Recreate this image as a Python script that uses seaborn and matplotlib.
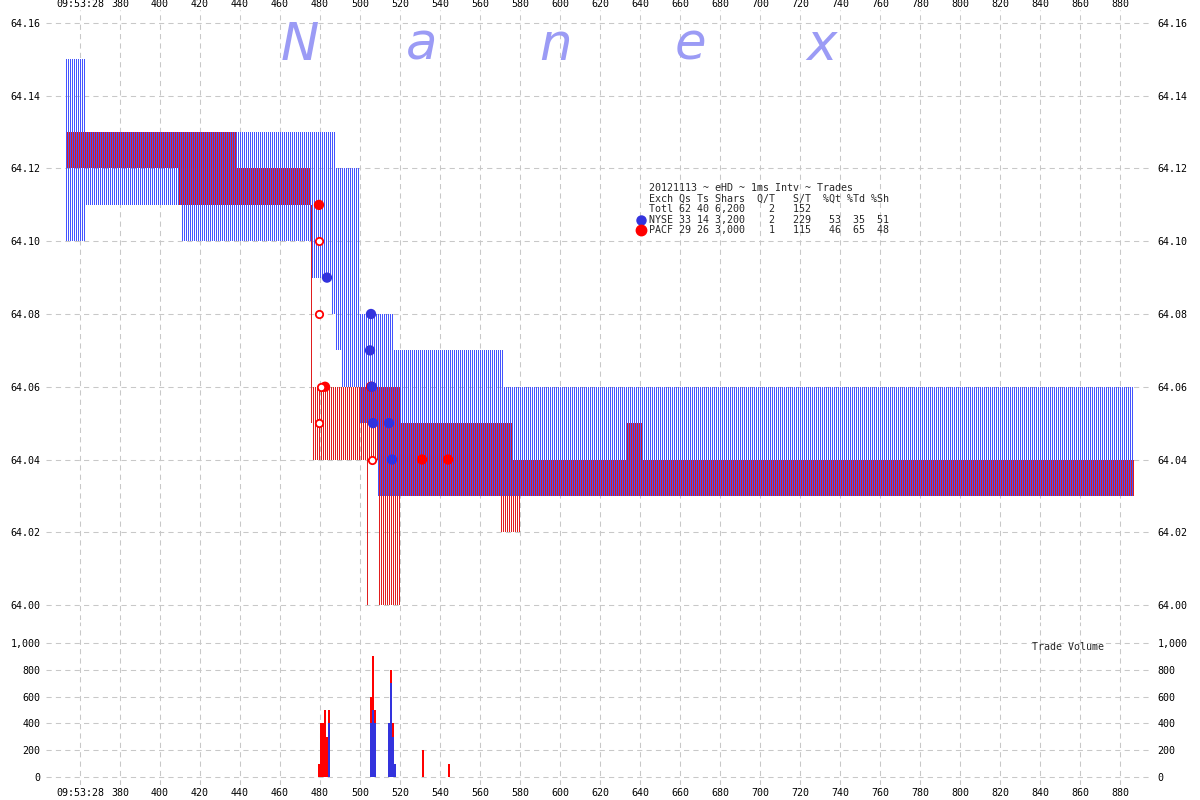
import numpy as np
import pandas as pd
import matplotlib
matplotlib.use("Agg")
import matplotlib.pyplot as plt
import seaborn as sns

# quote bands per exchange, ms [start, end) with bid / ask
nyse_start = [353, 363, 411, 476, 486, 488, 491, 500, 509, 517, 572]
nyse_end = [363, 411, 476, 486, 488, 491, 500, 509, 517, 572, 887]
nyse_bid = [64.10, 64.11, 64.10, 64.09, 64.08, 64.07, 64.06, 64.05, 64.03, 64.03, 64.03]
nyse_ask = [64.15, 64.13, 64.13, 64.13, 64.13, 64.12, 64.12, 64.08, 64.08, 64.07, 64.06]

pacf_start = [353, 409, 438, 475, 476, 503, 504, 509, 520, 570, 576, 580, 633, 641]
pacf_end = [409, 438, 475, 476, 503, 504, 509, 520, 570, 576, 580, 633, 641, 887]
pacf_bid = [64.12, 64.11, 64.11, 64.05, 64.04, 64.00, 64.04, 64.00, 64.03, 64.02, 64.02, 64.03, 64.03, 64.03]
pacf_ask = [64.13, 64.13, 64.12, 64.11, 64.06, 64.06, 64.06, 64.06, 64.05, 64.05, 64.04, 64.04, 64.05, 64.04]

# trades
trade_ms = [479.5, 479.5, 483.5, 479.5, 480.5, 482.5, 479.5, 505.5, 505, 505.5, 506,
            506.5, 506, 514.5, 516, 531, 544]
trade_px = [64.11, 64.10, 64.09, 64.08, 64.06, 64.06, 64.05, 64.08, 64.07, 64.06, 64.06,
            64.05, 64.04, 64.05, 64.04, 64.04, 64.04]
trade_exch = ["PACF", "PACF", "NYSE", "PACF", "PACF", "PACF", "PACF", "NYSE", "NYSE", "PACF", "NYSE",
              "NYSE", "PACF", "NYSE", "NYSE", "PACF", "PACF"]
trade_open = [False, True, False, True, True, False, True, False, False, False, False,
              False, True, False, False, False, False]

# trade volume per ms
vol_ms = [484, 505, 506, 507, 514, 515, 516, 517,
          479, 480, 481, 482, 483, 484, 505, 506, 507, 515, 516, 531, 544]
vol_exch = ["NYSE"] * 8 + ["PACF"] * 13
vol_shares = [400, 400, 500, 400, 400, 700, 300, 100,
              100, 400, 400, 500, 300, 100, 200, 400, 100, 100, 100, 200, 100]

price_ticks = [64.00, 64.02, 64.04, 64.06, 64.08, 64.10, 64.12, 64.14, 64.16]
vol_ticks = [0, 200, 400, 600, 800, 1000]
time_ticks = list(range(360, 881, 20))
time_labels = ["09:53:28"] + [str(t) for t in time_ticks[1:]]

legend_lines = [
    "20121113 ~ eHD ~ 1ms Intv ~ Trades",
    "Exch Qs Ts Shars  Q/T   S/T  %Qt %Td %Sh",
    "Totl 62 40 6,200    2   152",
    "NYSE 33 14 3,200    2   229   53  35  51",
    "PACF 29 26 3,000    1   115   46  65  48",
]

BLUE = "#4455ff"
RED = "#e01e1e"
DOT_BLUE = "#3333dd"
DOT_RED = "#ff0000"

sns.set_style("white")
plt.rcParams["font.family"] = ["DejaVu Sans Mono"]

fig = plt.figure(figsize=(12, 8), dpi=100)
ax = fig.add_axes([46 / 1200, 1 - 620 / 800, 1106 / 1200, 610 / 800])
axv = fig.add_axes([46 / 1200, 1 - 785 / 800, 1106 / 1200, 163 / 800])

# quote stripes: half a ms wide per exchange, NYSE left half, PACF right half
def stripes(starts, ends, bids, asks, offset, color):
    xs, lo, hi = [], [], []
    for s, e, b, a in zip(starts, ends, bids, asks):
        for t in range(s, e):
            xs.append(t + offset)
            lo.append(b)
            hi.append(a - b)
    ax.bar(xs, hi, bottom=lo, width=0.5, align="edge", color=color,
           linewidth=0, zorder=2)

stripes(nyse_start, nyse_end, nyse_bid, nyse_ask, 0.0, BLUE)
stripes(pacf_start, pacf_end, pacf_bid, pacf_ask, 0.5, RED)

trades = pd.DataFrame({"ms": trade_ms, "price": trade_px, "exch": trade_exch, "open": trade_open})
filled = trades[~trades["open"]]
sns.scatterplot(data=filled, x="ms", y="price", hue="exch",
                palette={"NYSE": DOT_BLUE, "PACF": DOT_RED}, s=55, linewidth=0,
                legend=False, ax=ax, zorder=4)
hollow = trades[trades["open"]]
sns.scatterplot(data=hollow, x="ms", y="price", color="white", edgecolor=DOT_RED,
                s=28, linewidth=1.3, legend=False, ax=ax, zorder=4)

vols = pd.DataFrame({"ms": vol_ms, "exch": vol_exch, "shares": vol_shares})
sns.histplot(data=vols, x="ms", weights="shares", hue="exch", hue_order=["PACF", "NYSE"],
             palette={"NYSE": DOT_BLUE, "PACF": DOT_RED}, multiple="stack",
             binwidth=1, binrange=(343, 896), alpha=1, linewidth=0,
             legend=False, ax=axv)

grid_kw = dict(color="#c8c8c8", linestyle=(0, (5, 4)), linewidth=0.75)
for a in (ax, axv):
    a.set_xlim(343, 896)
    a.set_xticks(time_ticks)
    a.set_xticklabels(time_labels)
    a.grid(True, **grid_kw)
    a.set_axisbelow(True)
    a.set_xlabel("")
    a.set_ylabel("")
    for sp in a.spines.values():
        sp.set_visible(False)
    a.tick_params(length=0, labelsize=7.2, colors="black")
    a.tick_params(axis="y", labelleft=True, labelright=True, pad=4)

ax.set_ylim(63.99588, 64.16357)
ax.set_yticks(price_ticks)
ax.set_yticklabels([f"{p:.2f}" for p in price_ticks])
ax.tick_params(axis="x", labeltop=True, labelbottom=False, pad=1)

axv.set_ylim(-59.7, 1156.7)
axv.set_yticks(vol_ticks)
axv.set_yticklabels([f"{v:,}" for v in vol_ticks])
axv.tick_params(axis="x", labeltop=False, labelbottom=True, pad=2)

# Nanex watermark
for letter, px in zip("Nanex", [300, 422, 555, 690, 822]):
    fig.text(px / 1200, 1 - 60 / 800, letter, fontsize=37, style="italic",
             family="DejaVu Sans", color="#9b9bf5", ha="center", va="baseline")

# stats box
for line, py in zip(legend_lines, [188, 198.5, 209, 219.5, 230]):
    fig.text(649 / 1200, 1 - py / 800, line, fontsize=7.2, ha="left", va="center")
ax.plot([641 / 1200], [1 - 219.5 / 800], "o", color=DOT_BLUE, markersize=6.5,
        transform=fig.transFigure, clip_on=False)
ax.plot([641 / 1200], [1 - 230 / 800], "o", color=DOT_RED, markersize=7.5,
        transform=fig.transFigure, clip_on=False)

fig.text(1032 / 1200, 1 - 647 / 800, "Trade Volume", fontsize=7.2, ha="left", va="center")

fig.savefig("out.png", dpi=100)
